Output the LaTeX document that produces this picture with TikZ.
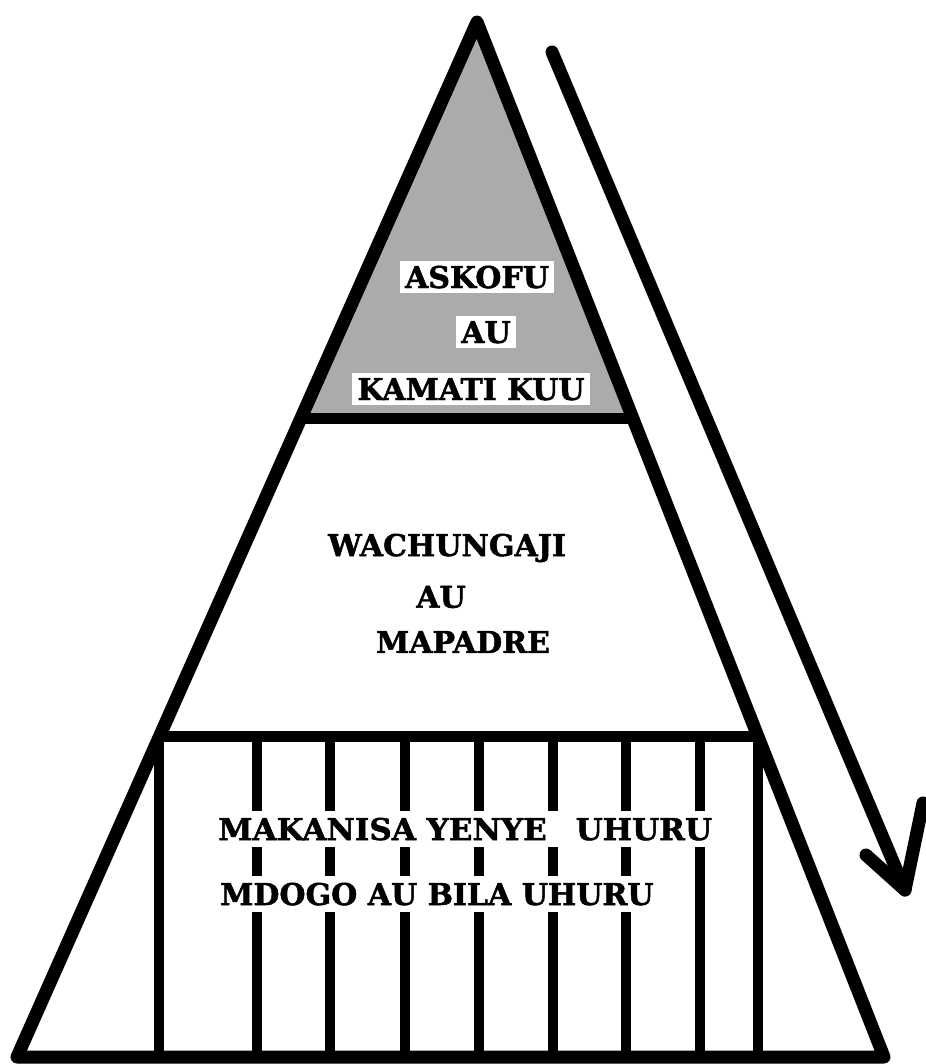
\documentclass[tikz,border=0pt]{standalone}
\usepackage{fontspec}
\usepackage{graphicx}
\setmainfont{DejaVu Serif}
\newfontfamily\heavyfont{DejaVu Serif Bold}[FakeBold=1.6]
\usetikzlibrary{calc}
\begin{document}
\begin{tikzpicture}[x=1pt,y=-1pt,
  outline/.style={line width=13pt, line join=round, line cap=round},
  divider/.style={line width=11pt},
  post/.style={line width=10pt},
  shade/.style={fill=black!33},
  lbl/.style={font=\heavyfont\fontsize{30}{30}\selectfont, inner sep=0pt},
  knock/.style={lbl, fill=white, text height=22pt, text depth=0pt, inner xsep=5pt, inner ysep=5pt},
  rowlbl/.style={lbl, fill=white, text height=22pt, text depth=0pt, inner xsep=5pt, inner ysep=7pt, anchor=west}]
\useasboundingbox (0,0) rectangle (925,1064);
\fill[white] (0,0) rectangle (925,1064);
\coordinate (apex) at (477,22);
\coordinate (bl) at (17,1057);
\coordinate (br) at (884,1057);
\coordinate (l1) at ($(apex)!0.3830!(bl)$);
\coordinate (r1) at ($(apex)!0.3830!(br)$);
\coordinate (l2) at ($(apex)!0.6905!(bl)$);
\coordinate (r2) at ($(apex)!0.6905!(br)$);
% shaded top
\fill[shade] (apex) -- (l1) -- (r1) -- cycle;
% posts
\draw[post] (l2) -- (l2 |- bl);
\draw[post] (r2) -- (r2 |- br);
\foreach \x in {257,330,405,479,553,626,700}{
  \draw[post] (\x,736) -- (\x,1057);
}
% labels top
\node[knock] (askofu) at (477,277) {ASKOFU};
\node[knock] (au1) at (486,332) {AU};
\node[knock] (kamati) at (471,389) {KAMATI KUU};
% middle
\node[lbl] (wach) at (447,548) {WACHUNGAJI};
\node[lbl] (au2) at (441,597) {AU};
\node[lbl] (mapa) at (463,642) {MAPADRE};
% bottom
\node[rowlbl] (row1) at (213,829) {\scalebox{1.035}[1]{MAKANISA YENYE\hspace{28pt}UHURU}};
\node[rowlbl] (row2) at (215,894) {MDOGO AU BILA UHURU};
% outline
\draw[divider] (l1) -- (r1);
\draw[divider] (l2) -- (r2);
\draw[outline] (apex) -- (bl) -- (br) -- cycle;
% arrow
\coordinate (atail) at (552,52);
\coordinate (atip) at (905,890);
\coordinate (lbarb) at (866,855);
\coordinate (rbarb) at (923,803);
\draw[outline] (atail) -- (atip);
\draw[outline] (lbarb) -- (atip) -- (rbarb);
\end{tikzpicture}
\end{document}
